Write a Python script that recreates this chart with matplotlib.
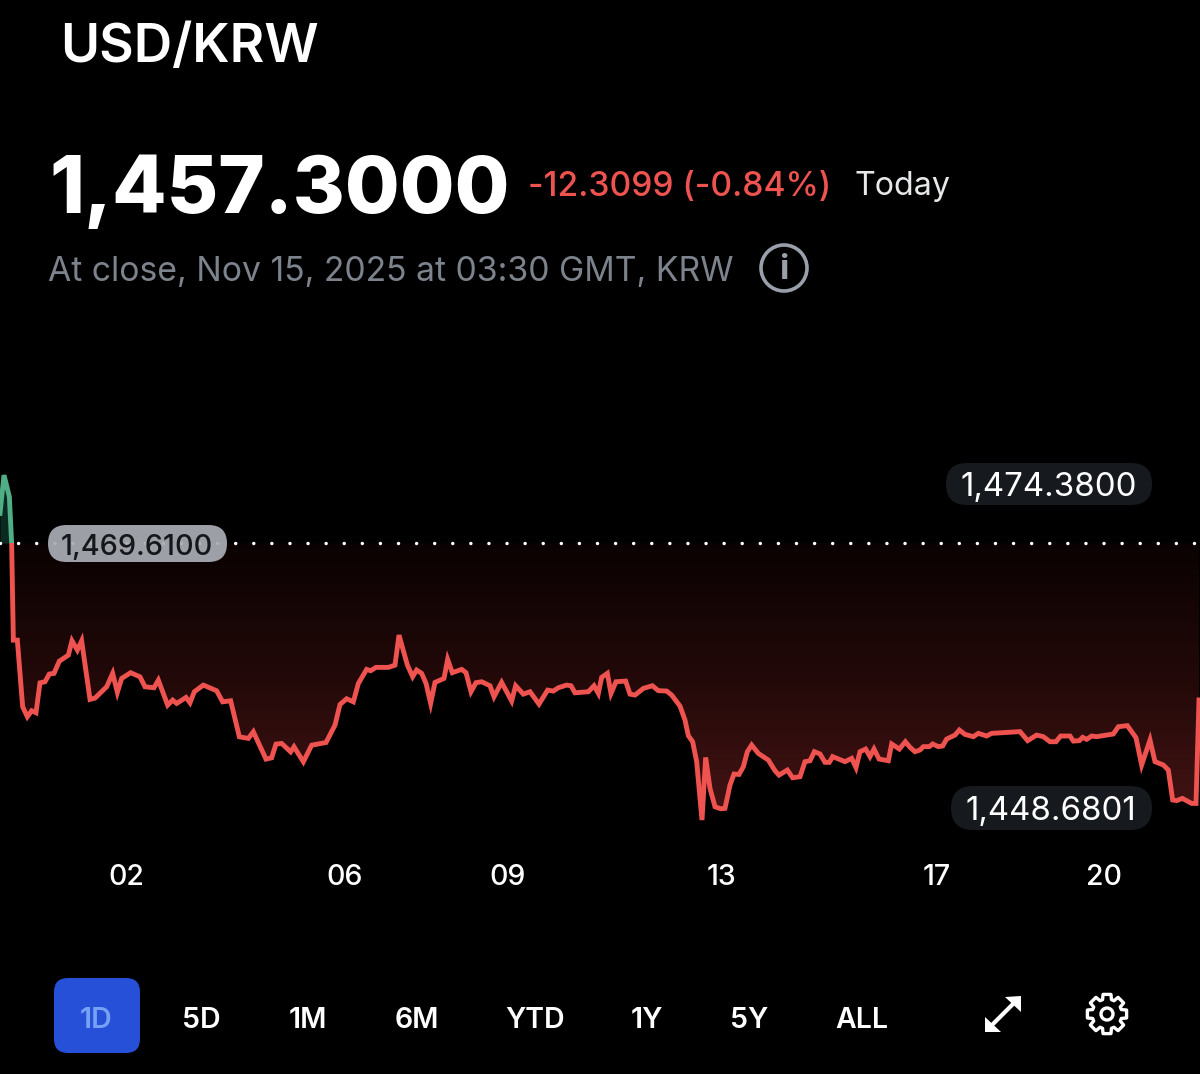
import numpy as np
import matplotlib
matplotlib.use("Agg")
import matplotlib.pyplot as plt
from matplotlib.patches import FancyBboxPatch, Circle, Polygon, Rectangle
from matplotlib.colors import LinearSegmentedColormap

plt.rcParams['font.family'] = ['Inter', 'DejaVu Sans']

# Sample position along the session axis (240 samples across the plot)
sample = [0.0,0.8,1.87,2.33,2.67,3.47,4.53,5.47,6.33,7.2,8.0,9.0,9.87,10.8,11.87,13.67,14.4,15.47,16.33,18.0,
 19.0,21.33,22.53,23.47,24.33,26.13,28.0,29.0,30.8,31.67,33.53,34.53,35.33,37.2,38.0,38.87,40.67,43.33,44.53,46.13,
 47.87,49.67,50.67,53.2,54.33,55.2,56.33,58.13,58.8,60.67,62.33,65.2,67.0,68.0,69.33,70.67,71.67,73.33,74.13,75.2,
 77.67,79.0,79.8,81.47,82.53,83.33,84.33,85.2,86.13,87.0,88.8,89.53,90.47,92.33,93.2,94.2,95.2,96.33,98.0,98.8,
 100.33,102.33,103.13,104.67,106.0,107.8,109.53,110.67,111.67,113.33,114.2,115.0,117.67,118.8,119.67,120.33,121.47,122.2,123.2,125.13,
 126.0,127.0,128.67,130.47,131.67,133.33,134.33,136.0,137.0,137.67,138.53,139.33,140.4,141.13,142.0,143.0,144.13,145.0,146.0,146.8,
 147.8,148.67,149.47,150.33,151.67,153.67,155.0,155.8,157.47,158.53,160.0,161.0,162.0,162.87,164.0,165.0,165.87,166.53,169.0,170.33,
 171.2,172.0,173.13,174.0,174.8,175.8,177.67,178.33,179.87,181.07,182.0,183.0,184.0,184.67,185.87,186.53,187.67,188.53,189.33,191.0,
 191.87,193.0,194.67,195.67,197.33,198.33,204.0,205.53,207.33,208.67,210.0,211.2,212.13,214.0,214.67,215.87,216.53,217.33,218.33,219.33,
 222.67,223.67,225.47,227.2,228.33,230.0,231.0,232.67,233.67,234.53,235.33,236.47,238.33,239.2,239.8]
price = [1471.84,1474.72,1473.09,1469.58,1462.31,1462.31,1457.30,1456.55,1457.0,1456.85,1459.10,1459.18,1459.76,1459.81,1460.73,1461.18,1462.26,1461.56,1462.26,1457.85,
 1457.95,1458.80,1459.81,1458.38,1459.43,1459.86,1459.55,1458.80,1458.73,1459.30,1457.42,1457.80,1457.55,1458.0,1457.60,1458.43,1458.93,1458.50,1457.67,1457.75,
 1455.04,1454.92,1455.42,1453.36,1453.46,1454.49,1454.54,1453.91,1454.29,1453.16,1454.41,1454.61,1455.92,1457.47,1457.9,1457.67,1459.05,1460.11,1460.01,1460.26,
 1460.26,1460.43,1462.69,1460.44,1459.56,1460.06,1459.81,1459.06,1457.55,1459.13,1459.43,1460.86,1459.86,1460.11,1459.86,1458.43,1459.11,1459.18,1458.88,1458.05,
 1459.13,1457.73,1458.88,1458.25,1458.43,1457.50,1458.55,1458.48,1458.73,1458.93,1458.88,1458.35,1458.43,1458.88,1458.30,1459.51,1459.81,1458.30,1459.18,1459.23,
 1458.25,1458.18,1458.68,1458.88,1458.51,1458.48,1458.18,1457.35,1456.30,1455.12,1454.67,1453.17,1448.78,1453.49,1451.16,1449.78,1449.63,1449.66,1451.41,1452.24,
 1452.21,1452.79,1453.92,1454.42,1453.79,1453.29,1452.49,1452.16,1452.54,1451.96,1452.04,1453.17,1453.24,1453.92,1453.75,1453.12,1453.12,1453.55,1453.17,1453.42,
 1452.72,1453.92,1454.12,1453.55,1454.12,1453.37,1453.24,1454.5,1454.12,1454.67,1454.25,1453.92,1454.05,1454.30,1454.30,1454.50,1454.30,1454.35,1454.87,1455.17,
 1455.55,1455.22,1455.05,1455.30,1455.10,1455.30,1455.43,1454.75,1455.17,1455.05,1454.67,1454.67,1455.10,1455.10,1454.72,1454.75,1455.0,1454.85,1455.10,1455.05,
 1455.25,1455.80,1455.88,1454.97,1452.92,1454.80,1453.17,1452.92,1452.54,1450.29,1450.24,1450.41,1450.03,1450.03,1457.81]
prev_close = 1469.61
tick_pos = [25.2, 68.9, 101.5, 144.2, 187.4, 220.8]
tick_labels = ['02', '06', '09', '13', '17', '20']
ranges = ['1D', '5D', '1M', '6M', 'YTD', '1Y', '5Y', 'ALL']
range_x = [96, 201, 308, 417, 535, 647, 749, 862]

RED = '#EF5350'
GREEN = '#4FAE85'

W, H = 1200, 1074
fig = plt.figure(figsize=(W/100, H/100), dpi=100, facecolor='black')

# chart axes: px y 440..840
ax = fig.add_axes([0, (H-840)/H, 1, 400/H], facecolor='black')
ax.set_xlim(0, 240)
ax.set_ylim(1447.28, 1477.36)
for s in ax.spines.values():
    s.set_visible(False)
ax.set_yticks([])
ax.set_xticks(tick_pos)
ax.set_xticklabels(tick_labels, color='white', fontsize=20.5, fontweight='medium')
ax.tick_params(axis='x', length=0, pad=17)

# gradient fill below the previous close
cmap = LinearSegmentedColormap.from_list('g', ['#0a0202', '#240909', '#461414'])
grad = np.linspace(0, 1, 256).reshape(-1, 1)
im = ax.imshow(grad, extent=[0, 240, 1448.5, prev_close], origin='upper', cmap=cmap,
               aspect='auto', zorder=1, vmin=0, vmax=1)
im.set_clip_path(ax.fill_between(sample, price, prev_close, where=np.array(price) <= prev_close,
                                 interpolate=True, color='none').get_paths()[0],
                 transform=ax.transData)
ax.fill_between(sample, price, prev_close, where=np.array(price) >= prev_close,
                interpolate=True, color='#0b2a1f', lw=0, zorder=1)
ax.set_xlim(0, 240)
ax.set_ylim(1447.28, 1477.36)

ax.axhline(prev_close, color='white', lw=2.5, zorder=2, dash_capstyle='round',
           linestyle=(0, (0.01, 5.2)))

lo, = ax.plot(sample, price, color=RED, lw=3.5, zorder=3, solid_joinstyle='miter')
lo.set_clip_path(Rectangle((0, 1440), 240, prev_close-1440, transform=ax.transData))
hi, = ax.plot(sample, price, color=GREEN, lw=3.5, zorder=3, solid_joinstyle='miter')
hi.set_clip_path(Rectangle((0, prev_close), 240, 20, transform=ax.transData))

# interface overlay in pixel space
ui = fig.add_axes([0, 0, 1, 1], facecolor='none')
ui.set_xlim(0, W)
ui.set_ylim(H, 0)
ui.axis('off')

def pill(x0, x1, y0, y1, color, alpha=1, z=5):
    r = (y1-y0)/2
    ui.add_patch(FancyBboxPatch((x0+r, y0+r), x1-x0-2*r, 0.01,
                 boxstyle=f'round,pad={r-0.01},rounding_size={r-0.01}', fc=color, ec='none', alpha=alpha, zorder=z))

ui.text(60, 48, 'USD/KRW', color='white', fontsize=38.3, fontweight='semibold', va='center', ha='left')
ui.text(49, 192, '1,457.3000', color='white', fontsize=57.1, fontweight='heavy', va='center', ha='left')
ui.text(528, 187, '-12.3099 (-0.84%)', color=RED, fontsize=24.2, fontweight='medium', va='center', ha='left')
ui.text(855, 187, 'Today', color='#E6E8EA', fontsize=23.2, va='center', ha='left')
ui.text(48, 272, 'At close, Nov 15, 2025 at 03:30 GMT, KRW', color='#7D838D', fontsize=24.3, va='center', ha='left')
ui.add_patch(Circle((784, 268), 23, fc='none', ec='#9AA0AA', lw=2.6))
ui.text(784, 270, 'i', color='#9AA0AA', fontsize=25, fontweight='bold', va='center', ha='center')

pill(946, 1152, 463, 505, '#16191E')
ui.text(1049, 487, '1,474.3800', color='white', fontsize=23.8, va='center', ha='center', zorder=6)
pill(951, 1152, 786, 830, '#16191E')
ui.text(1051, 811, '1,448.6801', color='white', fontsize=23.8, va='center', ha='center', zorder=6)
pill(48, 227, 525, 562, '#A9ADB4', alpha=0.93)
ui.text(137, 547, '1,469.6100', color='#15171A', fontsize=20.8, fontweight='medium', va='center', ha='center', zorder=6)

ui.add_patch(FancyBboxPatch((66, 990), 62, 51, boxstyle='round,pad=12,rounding_size=14', fc='#2750D8', ec='none'))
for i, (lab, x) in enumerate(zip(ranges, range_x)):
    ui.text(x, 1020, lab, color='#76A1F4' if i == 0 else 'white', fontsize=20.5,
            fontweight='semibold', va='center', ha='center', zorder=6)

# expand icon
ui.plot([991, 1015], [1026, 1002], color='white', lw=3)
ui.add_patch(Polygon([(1021, 996), (1005, 997), (1021, 1012)], fc='white', ec='none'))
ui.add_patch(Polygon([(985, 1032), (985, 1017), (1001, 1032)], fc='white', ec='none'))

# gear icon
cx, cy, teeth = 1107, 1014, 8
verts = []
for k in range(teeth):
    a = 2*np.pi*k/teeth - np.pi/2
    for da, r in [(-0.30, 15), (-0.20, 20), (0.20, 20), (0.30, 15)]:
        verts.append((cx + r*np.cos(a+da), cy + r*np.sin(a+da)))
ui.add_patch(Polygon(verts, closed=True, fc='none', ec='white', lw=2.4, joinstyle='round'))
ui.add_patch(Circle((cx, cy), 6, fc='none', ec='white', lw=2.4))

fig.savefig('out.png', dpi=100, facecolor='black')
